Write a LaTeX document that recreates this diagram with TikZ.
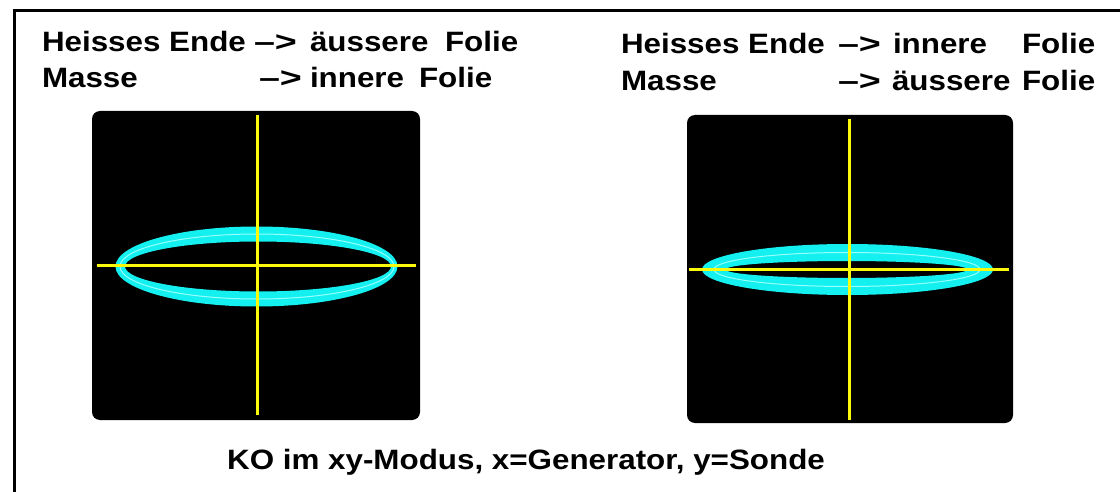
\documentclass[tikz,border=0pt]{standalone}
\usepackage{fontspec}
\usepackage{graphicx}
\setmainfont{Liberation Sans}[FakeStretch=1.12]
\definecolor{scopecyan}{RGB}{20,240,240}
\definecolor{scopecyanlt}{RGB}{150,255,255}
\definecolor{scopeyellow}{RGB}{250,250,10}
\newcommand{\arr}{\scalebox{1.2}[1]{–>}}
\tikzset{
  lbl/.style={inner sep=0pt, outer sep=0pt, anchor=base west, font=\fontsize{28}{34}\selectfont\bfseries},
  screen/.style={fill=black, rounded corners=8pt},
  axis/.style={draw=scopeyellow, line width=3pt},
  frameline/.style={draw=black, line width=3pt},
}
\begin{document}
\begin{tikzpicture}[x=1pt, y=-1pt]
\useasboundingbox (0,0) rectangle (1120,492);
% outer frame (top and left edges visible)
\coordinate (ftl) at (14,10.5);
\coordinate (ftr) at (1125,10.5);
\coordinate (fbl) at (14,497);
\draw[frameline] (ftr) -- (ftl) -- (fbl);

% ---------- left scope ----------
\fill[screen] (92,111) rectangle (420,420);
\fill[scopecyan, even odd rule] (256.5,266.5) ellipse [x radius=141, y radius=40]
                                 (258,266.5) ellipse [x radius=133, y radius=25];
\draw[scopecyanlt, line width=1pt] (257,266.5) ellipse [x radius=137, y radius=32.5];
\coordinate (lvt) at (257,115);
\coordinate (lvb) at (257,415);
\coordinate (lhl) at (97,265);
\coordinate (lhr) at (416,265);
\draw[axis] (lvt) -- (lvb);
\draw[axis] (lhl) -- (lhr);

% ---------- right scope ----------
\fill[screen] (687,115) rectangle (1013,423);
\fill[scopecyan, even odd rule] (847.5,269.5) ellipse [x radius=145.5, y radius=25.5]
                                 (846.5,269.5) ellipse [x radius=121, y radius=8.5];
\draw[scopecyanlt, line width=1pt] (847,269.5) ellipse [x radius=133, y radius=17];
\coordinate (rvt) at (849,119);
\coordinate (rvb) at (849,420);
\coordinate (rhl) at (689,269);
\coordinate (rhr) at (1009,269);
\draw[axis] (rvt) -- (rvb);
\draw[axis] (rhl) -- (rhr);

% ---------- left header ----------
\node[lbl] (l1a) at (42,52) {Heisses Ende};
\node[lbl] (l1b) at (254,52) {\arr};
\node[lbl] (l1c) at (310,52) {äussere};
\node[lbl] (l1d) at (445,52) {Folie};
\node[lbl] (l2a) at (42,88) {Masse};
\node[lbl] (l2b) at (259,88) {\arr};
\node[lbl] (l2c) at (310,88) {innere};
\node[lbl] (l2d) at (419,88) {Folie};

% ---------- right header ----------
\node[lbl] (r1a) at (621,54) {Heisses Ende};
\node[lbl] (r1b) at (838,54) {\arr};
\node[lbl] (r1c) at (893,54) {innere};
\node[lbl] (r1d) at (1022,54) {Folie};
\node[lbl] (r2a) at (621,91) {Masse};
\node[lbl] (r2b) at (838,91) {\arr};
\node[lbl] (r2c) at (892,91) {äussere};
\node[lbl] (r2d) at (1022,91) {Folie};

% ---------- caption ----------
\node[lbl, anchor=base] (cap) at (526,469) {KO im xy-Modus, x=Generator, y=Sonde};
\end{tikzpicture}
\end{document}
